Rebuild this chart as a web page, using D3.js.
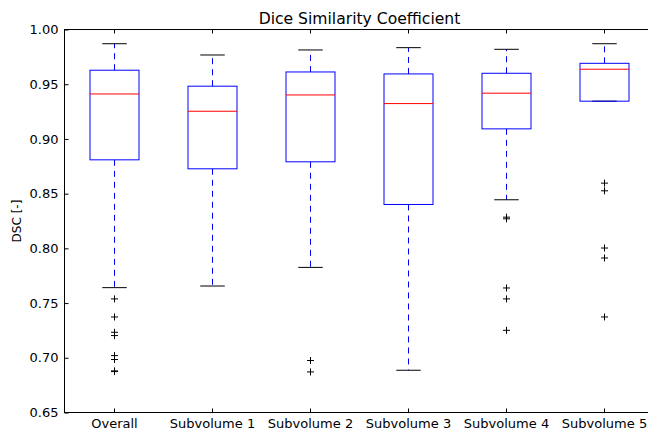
<!DOCTYPE html>
<html><head><meta charset="utf-8">
<script src="https://cdn.jsdelivr.net/npm/d3@7/dist/d3.min.js"></script>
<style>body{margin:0;background:#fff}svg{display:block}text{font-family:"DejaVu Sans",sans-serif}</style>
</head><body>
<script>
const categories = ["Overall","Subvolume 1","Subvolume 2","Subvolume 3","Subvolume 4","Subvolume 5"];
const whiskerHigh = [0.987, 0.9767, 0.9813, 0.9834, 0.9819, 0.987];
const q3 = [0.9628, 0.9482, 0.9612, 0.9594, 0.9600, 0.9691];
const median = [0.9411, 0.9253, 0.9402, 0.9323, 0.9418, 0.9637];
const q1 = [0.8809, 0.8727, 0.8791, 0.8401, 0.9092, 0.9345];
const whiskerLow = [0.7641, 0.7656, 0.7826, 0.6886, 0.8444, 0.9345];
const outliers = [
  [0.7538, 0.7373, 0.7233, 0.7203, 0.7020, 0.6984, 0.6880, 0.6874],
  [],
  [0.6975, 0.6871],
  [],
  [0.8285, 0.8270, 0.7638, 0.7538, 0.7251],
  [0.8596, 0.8526, 0.8003, 0.7912, 0.7373]
];
const yTicks = [0.65, 0.70, 0.75, 0.80, 0.85, 0.90, 0.95, 1.00];

const W = 648, H = 430;
const L = 64.5, R = 652.5, T = 29.5, B = 412.5;
const svg = d3.select("body").append("svg").attr("width", W).attr("height", H);
const x = d3.scaleLinear().domain([0.5, 6.5]).range([L, R]);
const y = d3.scaleLinear().domain([0.65, 1.0]).range([B, T]);
const boxW = x(1.25) - x(1), capW = x(1.125) - x(1);

const g = svg.append("g");
categories.forEach((c, i) => {
  const cx = Math.round(x(i + 1)) + 0.5;
  const gi = g.append("g");
  // whiskers
  gi.append("line").attr("x1", cx).attr("x2", cx).attr("y1", y(q3[i])).attr("y2", y(whiskerHigh[i]))
    .attr("stroke", "#0000ff").attr("stroke-width", 1).attr("stroke-dasharray", "6,5");
  gi.append("line").attr("x1", cx).attr("x2", cx).attr("y1", y(q1[i])).attr("y2", y(whiskerLow[i]))
    .attr("stroke", "#0000ff").attr("stroke-width", 1).attr("stroke-dasharray", "6,5");
  // caps
  [whiskerHigh[i], whiskerLow[i]].forEach(v => {
    gi.append("line").attr("x1", cx - capW).attr("x2", cx + capW).attr("y1", y(v)).attr("y2", y(v))
      .attr("stroke", "#000").attr("stroke-width", 1);
  });
  // box
  gi.append("rect").attr("x", cx - boxW).attr("width", 2 * boxW)
    .attr("y", y(q3[i])).attr("height", y(q1[i]) - y(q3[i]))
    .attr("fill", "none").attr("stroke", "#0000ff").attr("stroke-width", 1);
  // median
  gi.append("line").attr("x1", cx - boxW).attr("x2", cx + boxW).attr("y1", y(median[i])).attr("y2", y(median[i]))
    .attr("stroke", "#ff0000").attr("stroke-width", 1);
  // outliers
  outliers[i].forEach(v => {
    const py = y(v);
    gi.append("path").attr("d", `M${cx - 3.5},${py}H${cx + 3.5}M${cx},${py - 3.5}V${py + 3.5}`)
      .attr("stroke", "#000").attr("stroke-width", 1).attr("fill", "none");
  });
});

// frame
svg.append("rect").attr("x", L).attr("y", T).attr("width", R - L).attr("height", B - T)
  .attr("fill", "none").attr("stroke", "#000").attr("stroke-width", 1);

// y axis (ticks inward)
const yAxis = d3.axisLeft(y).tickValues(yTicks).tickFormat(d3.format(".2f")).tickSizeInner(-4).tickSizeOuter(0).tickPadding(6);
const ya = svg.append("g").attr("transform", `translate(${L},0)`).call(yAxis);
ya.select(".domain").remove();
ya.selectAll("text").attr("font-size", 13).attr("font-family", "DejaVu Sans").attr("fill", "#000");
ya.selectAll("line").attr("stroke", "#000");
// right ticks
const yAxisR = d3.axisRight(y).tickValues(yTicks).tickFormat("").tickSizeInner(-4).tickSizeOuter(0);
const yr = svg.append("g").attr("transform", `translate(${R},0)`).call(yAxisR);
yr.select(".domain").remove();

// x axis
const xAxis = d3.axisBottom(x).tickValues(d3.range(1, 7)).tickFormat((d) => categories[d - 1]).tickSizeInner(-4).tickSizeOuter(0).tickPadding(6);
const xa = svg.append("g").attr("transform", `translate(0,${B})`).call(xAxis);
xa.select(".domain").remove();
xa.selectAll("text").attr("font-size", 13).attr("font-family", "DejaVu Sans").attr("fill", "#000");
xa.selectAll(".tick").attr("transform", d => `translate(${Math.round(x(d)) + 0.5},0)`);
const xAxisT = d3.axisTop(x).tickValues(d3.range(1, 7)).tickFormat("").tickSizeInner(-4).tickSizeOuter(0);
const xt = svg.append("g").attr("transform", `translate(0,${T})`).call(xAxisT);
xt.select(".domain").remove();
xt.selectAll(".tick").attr("transform", d => `translate(${Math.round(x(d)) + 0.5},0)`);

// title
svg.append("text").attr("x", (L + R) / 2 + 1).attr("y", 24).attr("text-anchor", "middle")
  .attr("font-size", 15.6).attr("fill", "#000").text("Dice Similarity Coefficient");
// y label
svg.append("text").attr("transform", `translate(21,${(T + B) / 2}) rotate(-90)`).attr("text-anchor", "middle")
  .attr("font-size", 12).attr("fill", "#000").text("DSC [-]");
</script>
</body></html>
